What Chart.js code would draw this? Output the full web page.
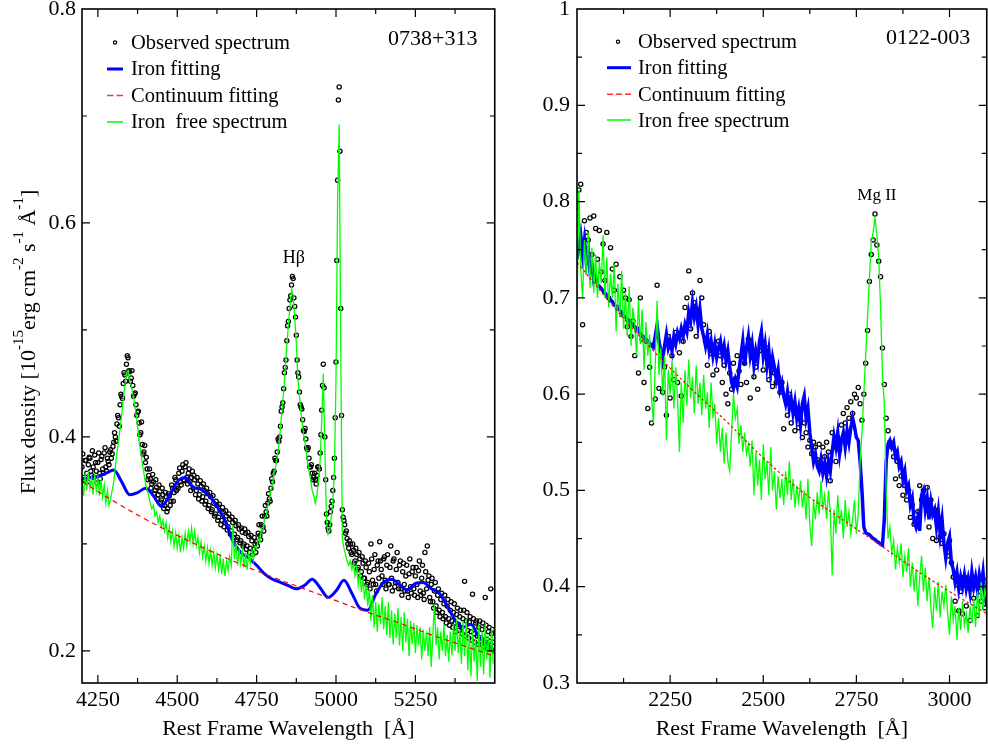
<!DOCTYPE html>
<html>
<head>
<meta charset="utf-8">
<script src="https://cdn.jsdelivr.net/npm/chart.js@4.4.1/dist/chart.umd.min.js"></script>
<style>
  html, body { margin: 0; padding: 0; background: #fff; }
  #wrap { position: relative; width: 988px; height: 744px; overflow: hidden; background: #fff; }
  canvas { position: absolute; top: 0; }
  #hb { left: 0; }
  #mg { left: 500px; }
</style>
</head>
<body>
<div id="wrap">
  <canvas id="hb" width="500" height="744"></canvas>
  <canvas id="mg" width="492" height="744"></canvas>
</div>
<script>
// ---------- 0738+313 : H-beta region ----------
// observed flux on a 5 A grid, plus the interleaved samples half a step later
const hbWaveStart = 4200, hbWaveStep = 5;
const hbObserved = [
  .372,.362,.378,.366,.374,.380,.364,.372,.383,.368,
  .376,.366,.379,.370,.385,.372,.380,.374,.388,.384,
  .395,.400,.412,.418,.430,.438,.450,.458,.468,.474,
  .461,.455,.448,.440,.430,.423,.413,.404,.393,.386,
  .376,.370,.364,.361,.356,.358,.350,.353,.346,.349,
  .341,.346,.336,.344,.333,.345,.340,.352,.348,.360,
  .354,.366,.358,.368,.360,.372,.362,.366,.358,.362,
  .352,.360,.350,.356,.346,.354,.344,.350,.340,.347,
  .336,.344,.332,.338,.328,.336,.325,.331,.322,.330,
  .320,.326,.316,.323,.312,.320,.309,.317,.306,.314,
  .303,.311,.300,.310,.298,.307,.296,.303,.295,.300,
  .302,.310,.308,.318,.316,.326,.330,.338,.342,.352,
  .358,.368,.378,.386,.396,.410,.428,.445,.465,.490,
  .508,.528,.542,.548,.522,.495,.460,.442,.428,.416,
  .405,.398,.388,.380,.372,.366,.362,.360,.364,.372,
  .385,.425,.468,.400,.328,.315,.318,.335,.350,.380,
  .470,.640,.727,.520,.332,.322,.310,.305,.296,.300,
  .290,.294,.284,.290,.278,.286,.274,.282,.268,.278,
  .264,.274,.300,.266,.276,.262,.280,.268,.284,.270,
  .286,.266,.280,.262,.278,.268,.284,.260,.276,.264,
  .280,.258,.274,.262,.270,.256,.272,.260,.274,.258,
  .270,.262,.275,.256,.268,.254,.292,.258,.266,.250,
  .262,.246,.256,.242,.252,.238,.248,.236,.244,.232,
  .242,.230,.238,.228,.236,.226,.234,.225,.232,.222,
  .230,.265,.228,.219,.227,.218,.253,.216,.226,.214,
  .222,.212,.220,.210,.250,.211,.218,.209,.216,.208
];
const hbObservedMid = [
  .384,.360,.378,.358,.381,.368,.387,.362,.376,.357,
  .385,.361,.382,.366,.390,.368,.377,.386,.380,.391,
  .404,.396,.420,.410,.440,.436,.460,.452,.476,.462,
  .452,.462,.438,.441,.420,.424,.402,.414,.384,.392,
  .381,.360,.370,.352,.365,.347,.360,.342,.355,.339,
  .352,.333,.348,.330,.347,.336,.355,.340,.362,.350,
  .352,.371,.355,.374,.359,.376,.356,.370,.350,.368,
  .364,.346,.362,.342,.359,.340,.356,.337,.352,.333,
  .348,.330,.345,.326,.340,.322,.337,.318,.334,.316,
  .331,.313,.328,.309,.325,.306,.322,.304,.318,.301,
  .315,.298,.314,.295,.311,.292,.308,.290,.306,.292,
  .298,.318,.304,.326,.312,.336,.326,.347,.340,.361,
  .366,.380,.378,.398,.400,.424,.432,.460,.472,.504,
  .520,.532,.550,.530,.512,.472,.456,.430,.426,.406,
  .408,.390,.390,.372,.374,.360,.366,.356,.372,.370,
  .402,.448,.446,.360,.320,.312,.330,.340,.362,.418,
  .565,.715,.667,.420,.325,.318,.312,.300,.303,.292,
  .300,.282,.296,.276,.292,.270,.288,.268,.284,.262,
  .282,.258,.286,.262,.290,.256,.284,.302,.276,.262,
  .288,.258,.290,.262,.298,.256,.286,.264,.292,.258,
  .284,.252,.282,.256,.280,.250,.286,.254,.278,.252,
  .278,.250,.284,.252,.280,.248,.274,.298,.270,.246,
  .268,.240,.264,.236,.258,.232,.254,.230,.252,.226,
  .248,.224,.246,.222,.244,.218,.240,.219,.238,.216,
  .238,.214,.236,.212,.232,.210,.230,.208,.228,.206,
  .228,.206,.226,.204,.224,.202,.222,.258,.220,.200
];
const hbIronFree = [
  .360,.345,.366,.350,.368,.352,.362,.346,.365,.350,
  .362,.345,.360,.344,.355,.338,.350,.336,.342,.350,
  .358,.372,.385,.395,.408,.420,.436,.448,.460,.462,
  .452,.448,.440,.432,.422,.410,.396,.386,.375,.366,
  .357,.350,.345,.338,.333,.336,.326,.330,.320,.326,
  .316,.322,.312,.320,.306,.316,.302,.312,.298,.310,
  .296,.308,.292,.306,.296,.310,.298,.312,.302,.315,
  .300,.312,.298,.306,.292,.302,.288,.298,.284,.296,
  .282,.294,.280,.292,.278,.290,.276,.288,.272,.286,
  .270,.284,.275,.288,.280,.318,.286,.300,.280,.296,
  .282,.294,.278,.292,.276,.290,.282,.294,.285,.298,
  .296,.305,.302,.314,.312,.324,.326,.336,.340,.350,
  .355,.366,.372,.382,.392,.408,.425,.442,.462,.485,
  .504,.522,.538,.532,.512,.488,.455,.438,.422,.410,
  .398,.390,.378,.368,.360,.350,.345,.338,.346,.360,
  .378,.415,.459,.390,.322,.309,.312,.326,.340,.368,
  .455,.620,.692,.480,.305,.296,.290,.284,.280,.284,
  .276,.282,.270,.278,.262,.275,.255,.268,.248,.262,
  .242,.258,.228,.252,.222,.246,.218,.244,.225,.250,
  .220,.242,.215,.246,.212,.238,.206,.235,.212,.240,
  .205,.232,.200,.236,.208,.230,.195,.228,.206,.226,
  .198,.224,.205,.222,.192,.220,.200,.218,.195,.222,
  .185,.215,.244,.205,.222,.192,.218,.200,.225,.195,
  .215,.190,.218,.196,.225,.200,.230,.198,.220,.188,
  .228,.195,.230,.182,.216,.176,.222,.190,.212,.172,
  .225,.185,.218,.178,.226,.192,.214,.175,.222,.188
];
// Fe II template + continuum, 25 A sampling
const hbIronFitStart = 4200, hbIronFitStep = 25;
const hbIronFit = [
  .361,.362,.363,.366,.369,.358,.346,.348,.352,.345,
  .335,.345,.358,.362,.353,.351,.345,.335,.322,.303,
  .292,.287,.280,.272,.267,.264,.261,.258,.261,.267,
  .259,.250,.256,.266,.254,.240,.238,.253,.264,.267,
  .262,.257,.263,.264,.258,.254,.242,.229,.222,.225,
  .213,.207,.200
];
const hbContWave = [4200,4300,4400,4500,4600,4700,4800,4900,5000,5100,5200,5300,5400,5500];
const hbCont     = [.358,.340,.323,.308,.294,.281,.269,.258,.247,.236,.226,.215,.205,.195];
const hbXTicks = [4250,4375,4500,4625,4750,4875,5000,5125,5250,5375];
const hbYTicks = [0.2,0.3,0.4,0.5,0.6,0.7,0.8];

// ---------- 0122-003 : Mg II region (5 A sampling) ----------
const mgWaveStart = 2000, mgWaveStep = 5;
const mgObserved = [
  .795,.812,.818,.672,.780,.768,.760,.783,.745,.785,
  .772,.740,.770,.727,.756,.718,.768,.700,.752,.730,
  .708,.735,.690,.722,.683,.708,.700,.670,.698,.660,
  .676,.640,.668,.622,.700,.657,.612,.655,.585,.628,
  .570,.650,.595,.713,.606,.645,.602,.628,.578,.660,
  .596,.640,.615,.664,.612,.643,.598,.655,.690,.700,
  .728,.668,.705,.695,.660,.688,.718,.700,.672,.655,
  .630,.665,.642,.620,.648,.625,.655,.640,.612,.630,
  .600,.590,.622,.605,.632,.616,.640,.624,.610,.645,
  .632,.612,.657,.596,.638,.618,.628,.605,.645,.655,
  .625,.640,.648,.615,.632,.608,.622,.612,.618,.602,
  .612,.564,.596,.578,.600,.570,.588,.562,.580,.565,
  .574,.555,.570,.560,.545,.552,.538,.550,.545,.532,
  .548,.528,.545,.535,.550,.540,.510,.560,.545,.530,
  .555,.542,.568,.580,.570,.586,.575,.592,.580,.600,
  .596,.607,.590,.573,.600,.632,.666,.717,.745,.760,
  .787,.755,.738,.722,.648,.610,.575,.562,.550,.545,
  .535,.512,.530,.505,.515,.495,.505,.490,.500,.472,
  .485,.465,.470,.478,.505,.490,.500,.485,.503,.462,
  .490,.450,.480,.448,.472,.452,.445,.455,.440,.432,
  .448,.425,.410,.385,.402,.375,.395,.372,.410,.380,
  .402,.365,.398,.388,.405,.370,.395,.385,.408,.378,
  .398
];
const mgIronFree = [
  .690,.812,.730,.700,.760,.725,.768,.710,.752,.705,
  .745,.700,.738,.715,.765,.700,.742,.690,.725,.700,
  .735,.665,.715,.680,.728,.668,.705,.660,.712,.650,
  .690,.672,.640,.698,.652,.688,.625,.675,.640,.662,
  .596,.570,.630,.697,.620,.648,.598,.640,.552,.625,
  .600,.635,.585,.628,.595,.540,.612,.570,.625,.588,
  .636,.596,.618,.580,.630,.590,.612,.578,.620,.585,
  .602,.565,.612,.575,.590,.548,.575,.540,.565,.528,
  .560,.530,.520,.560,.600,.575,.585,.548,.568,.540,
  .560,.538,.548,.525,.552,.495,.540,.505,.532,.490,
  .548,.512,.530,.495,.545,.500,.520,.480,.515,.492,
  .512,.485,.520,.495,.530,.490,.512,.482,.505,.488,
  .510,.482,.500,.470,.512,.465,.442,.490,.470,.498,
  .475,.510,.480,.495,.470,.500,.478,.412,.480,.455,
  .495,.465,.480,.450,.490,.462,.478,.455,.470,.490,
  .455,.475,.530,.560,.600,.640,.680,.720,.758,.768,
  .783,.765,.742,.690,.620,.590,.500,.450,.462,.435,
  .448,.418,.440,.425,.445,.410,.432,.415,.440,.400,
  .425,.395,.418,.380,.410,.432,.395,.420,.385,.410,
  .378,.357,.400,.375,.405,.368,.395,.380,.402,.372,
  .350,.390,.365,.380,.345,.378,.355,.385,.360,.372,
  .352,.380,.362,.388,.358,.395,.368,.405,.375,.398,
  .385
];
const mgIronFit = [
  .740,.752,.765,.745,.760,.738,.750,.728,.735,.718,
  .722,.714,.712,.710,.707,.705,.703,.700,.698,.696,
  .693,.691,.689,.687,.685,.682,.680,.678,.676,.674,
  .672,.670,.668,.666,.663,.661,.659,.657,.655,.653,
  .651,.649,.660,.672,.655,.645,.636,.650,.662,.648,
  .655,.645,.660,.652,.664,.658,.668,.660,.672,.665,
  .685,.676,.695,.680,.690,.672,.688,.668,.660,.650,
  .662,.645,.655,.640,.652,.638,.648,.655,.640,.650,
  .635,.645,.628,.612,.606,.615,.608,.625,.640,.655,
  .630,.648,.660,.640,.652,.630,.645,.635,.655,.665,
  .640,.652,.630,.645,.622,.638,.628,.615,.625,.605,
  .612,.598,.590,.602,.585,.595,.580,.592,.575,.585,
  .568,.590,.598,.575,.585,.560,.545,.530,.538,.525,
  .520,.532,.518,.528,.515,.530,.520,.540,.556,.545,
  .560,.538,.552,.560,.545,.562,.550,.565,.575,.566,
  .555,.552,.530,.500,.462,.456,.455,.454,.452,.450,
  .449,.447,.446,.444,.443,.470,.530,.548,.552,.545,
  .550,.535,.540,.525,.530,.512,.520,.500,.505,.485,
  .492,.468,.462,.472,.458,.495,.500,.480,.492,.470,
  .488,.475,.480,.462,.478,.455,.470,.445,.430,.445,
  .452,.425,.418,.405,.415,.398,.410,.400,.412,.398,
  .408,.395,.415,.400,.410,.396,.412,.400,.415,.392,
  .380
];
const mgContWave = [2000,2100,2200,2300,2400,2500,2600,2700,2800,2900,3000,3100];
const mgCont     = [.737,.690,.647,.608,.572,.534,.500,.473,.447,.420,.395,.372];
const mgXTicks = [2125,2250,2375,2500,2625,2750,2875,3000];
const mgYTicks = [0.3,0.35,0.4,0.45,0.5,0.55,0.6,0.65,0.7,0.75,0.8,0.85,0.9,0.95,1.0];

const legendNamesHb = ['Observed spectrum', 'Iron fitting', 'Continuum fitting', 'Iron  free spectrum'];
const legendNamesMg = ['Observed spectrum', 'Iron fitting', 'Continuum fitting', 'Iron free spectrum'];

// ---------- helpers ----------
const SERIF = "'Liberation Serif', 'Times New Roman', serif";
Chart.defaults.font.family = SERIF;
Chart.defaults.color = '#000';

const onGrid = (start, step, values) => values.map((v, i) => ({ x: start + i * step, y: v }));
const paired = (xs, ys) => xs.map((x, i) => ({ x: x, y: ys[i] }));

function drawFluxTitle(ctx, baseX, midY) {
  const main = '22px ' + SERIF, sup = '15px ' + SERIF;
  const parts = [['Flux density [10', 0], ['-15', 1], ['erg cm', 0], ['-2', 1], [' s', 0],
                 ['-1', 1], [' \u00C5', 0], ['-1', 1], [']', 0]];
  let total = 0;
  parts.forEach(p => { ctx.font = p[1] ? sup : main; p.w = ctx.measureText(p[0]).width; total += p.w; });
  ctx.save();
  ctx.translate(baseX, midY);
  ctx.rotate(-Math.PI / 2);
  ctx.textAlign = 'left';
  ctx.textBaseline = 'alphabetic';
  let x = -total / 2;
  parts.forEach(p => {
    ctx.font = p[1] ? sup : main;
    ctx.fillText(p[0], x, p[1] ? -12 : 0);
    x += p.w;
  });
  ctx.restore();
}

// Frame, inward tick marks, legend, line labels and axis titles
const panelDecor = {
  id: 'panelDecor',
  afterDatasetsDraw(chart, args, o) {
    const ctx = chart.ctx, a = chart.chartArea, xs = chart.scales.x, ys = chart.scales.y;
    ctx.save();
    ctx.strokeStyle = '#000';
    ctx.lineWidth = 1.6;
    ctx.strokeRect(a.left, a.top, a.right - a.left, a.bottom - a.top);

    ctx.lineWidth = 1.2;
    ctx.beginPath();
    xs.ticks.forEach(t => {
      const px = xs.getPixelForValue(t.value);
      const len = t.label ? 8 : 5;
      ctx.moveTo(px, a.bottom); ctx.lineTo(px, a.bottom - len);
      ctx.moveTo(px, a.top); ctx.lineTo(px, a.top + len);
    });
    ys.ticks.forEach(t => {
      const py = ys.getPixelForValue(t.value);
      if (py <= a.top + 1 || py >= a.bottom - 1) return;
      const len = t.label ? 8 : 5;
      ctx.moveTo(a.left, py); ctx.lineTo(a.left + len, py);
      ctx.moveTo(a.right, py); ctx.lineTo(a.right - len, py);
    });
    ctx.stroke();

    // legend
    const L = o.legend;
    ctx.fillStyle = '#000';
    ctx.textAlign = 'left';
    ctx.textBaseline = 'alphabetic';
    ctx.font = '20.5px ' + SERIF;
    L.names.forEach((name, i) => ctx.fillText(name, L.textX, L.base[i]));
    ctx.beginPath();
    ctx.arc(L.dotX, L.sym[0], 1.6, 0, Math.PI * 2);
    ctx.lineWidth = 1.2; ctx.strokeStyle = '#000'; ctx.stroke();
    const seg = (y, color, w, dash) => {
      ctx.beginPath(); ctx.setLineDash(dash); ctx.strokeStyle = color; ctx.lineWidth = w;
      ctx.moveTo(L.x0, y); ctx.lineTo(L.x1, y); ctx.stroke(); ctx.setLineDash([]);
    };
    seg(L.sym[1], '#0000ff', 3, []);
    seg(L.sym[2], '#ff3333', 1.4, L.dash);
    seg(L.sym[3], '#00ff00', 1.5, []);

    // object name
    ctx.fillStyle = '#000';
    ctx.font = '22px ' + SERIF;
    ctx.fillText(o.tag.text, o.tag.x, o.tag.y);

    // emission line label, placed in data coordinates
    ctx.font = o.line.size + 'px ' + SERIF;
    ctx.textAlign = 'center';
    ctx.fillText(o.line.text, xs.getPixelForValue(o.line.wave), ys.getPixelForValue(o.line.flux));

    // x axis title
    ctx.font = '22px ' + SERIF;
    ctx.fillText('Rest Frame Wavelength  [\u00C5]', (a.left + a.right) / 2, 735);

    if (o.yTitle) drawFluxTitle(ctx, 35, 342);
    ctx.restore();
  }
};

function buildPanel(id, p) {
  return new Chart(document.getElementById(id), {
    type: 'line',
    data: {
      datasets: [
        { label: 'Observed spectrum', data: p.observed, showLine: false, pointRadius: 2.1,
          pointBorderWidth: 1.25, pointBorderColor: '#000', pointBackgroundColor: 'rgba(255,255,255,0)', order: 4 },
        { label: 'Iron fitting', data: p.ironFit, borderColor: '#0000ff', borderWidth: p.fitWidth, pointRadius: 0,
          cubicInterpolationMode: p.smoothFit ? 'monotone' : 'default', tension: 0, order: 3 },
        { label: 'Iron free spectrum', data: p.ironFree, borderColor: '#00ff00', borderWidth: 1.3,
          pointRadius: 0, tension: 0, order: 2 },
        { label: 'Continuum fitting', data: p.cont, borderColor: '#ff0000', borderWidth: 1.2,
          borderDash: p.contDash, pointRadius: 0, tension: 0.4, order: 1 }
      ]
    },
    options: {
      responsive: false, animation: false, devicePixelRatio: 1, events: [],
      layout: { padding: { left: 0, right: p.padRight, top: 9, bottom: 0 } },
      plugins: { legend: { display: false }, tooltip: { enabled: false }, panelDecor: p.decor },
      scales: {
        x: {
          type: 'linear', min: p.xMin, max: p.xMax,
          grid: { display: false, drawTicks: false }, border: { display: false },
          afterBuildTicks: s => { s.ticks = p.xTicks.map(v => ({ value: v })); },
          afterFit: s => { s.height = 61; s.paddingLeft = 0; s.paddingRight = 0; },
          ticks: { autoSkip: false, maxRotation: 0, minRotation: 0, padding: 4, color: '#000',
                   font: { size: 22, lineHeight: 1.2 },
                   callback: v => (v % 250 === 0 ? String(v) : '') }
        },
        y: {
          type: 'linear', min: p.yMin, max: p.yMax,
          grid: { display: false, drawTicks: false }, border: { display: false },
          afterBuildTicks: s => { s.ticks = p.yTicks.map(v => ({ value: v })); },
          afterFit: s => { s.width = p.yWidth; s.paddingTop = 0; s.paddingBottom = 0; },
          ticks: { autoSkip: false, padding: p.yPad, color: '#000',
                   font: { size: 22, lineHeight: 1.2 }, callback: p.yLabel }
        }
      }
    },
    plugins: [panelDecor]
  });
}

buildPanel('hb', {
  observed: onGrid(hbWaveStart, hbWaveStep, hbObserved)
              .concat(onGrid(hbWaveStart + hbWaveStep / 2, hbWaveStep, hbObservedMid)),
  ironFree: onGrid(hbWaveStart, hbWaveStep, hbIronFree),
  ironFit: onGrid(hbIronFitStart, hbIronFitStep, hbIronFit),
  cont: paired(hbContWave, hbCont),
  smoothFit: true, fitWidth: 3, contDash: [5, 4],
  xMin: 4200, xMax: 5500, yMin: 0.17, yMax: 0.8,
  xTicks: hbXTicks, yTicks: hbYTicks,
  padRight: 4.5, yWidth: 82, yPad: 6,
  yLabel: v => { const k = Math.round(v * 10); return k % 2 === 0 ? (k / 10).toFixed(1) : ''; },
  decor: {
    legend: { names: legendNamesHb, x0: 107, x1: 123, dotX: 115, textX: 131,
              sym: [42.5, 69, 95.5, 122], base: [48.5, 75, 101.5, 128], dash: [6.5, 3] },
    tag: { text: '0738+313', x: 388, y: 45 },
    line: { text: 'H\u03B2', wave: 4867, flux: 0.5626, size: 18 },
    yTitle: true
  }
});

buildPanel('mg', {
  observed: onGrid(mgWaveStart, mgWaveStep, mgObserved),
  ironFree: onGrid(mgWaveStart, mgWaveStep, mgIronFree),
  ironFit: onGrid(mgWaveStart, mgWaveStep, mgIronFit),
  cont: paired(mgContWave, mgCont),
  smoothFit: false, fitWidth: 3.5, contDash: [2.5, 2.5],
  xMin: 2000, xMax: 3100, yMin: 0.3, yMax: 1.0,
  xTicks: mgXTicks, yTicks: mgYTicks,
  padRight: 2.4, yWidth: 77, yPad: 7,
  yLabel: v => { const k = Math.round(v * 20); if (k % 2) return ''; const d = k / 20; return d === 1 ? '1' : d.toFixed(1); },
  decor: {
    legend: { names: legendNamesMg, x0: 107, x1: 131, dotX: 118, textX: 138,
              sym: [41.7, 67.7, 94.3, 120], base: [48, 74, 100.5, 126.5], dash: [6, 3] },
    tag: { text: '0122-003', x: 386, y: 44 },
    line: { text: 'Mg II', wave: 2805, flux: 0.8016, size: 17 },
    yTitle: false
  }
});
</script>
</body>
</html>
